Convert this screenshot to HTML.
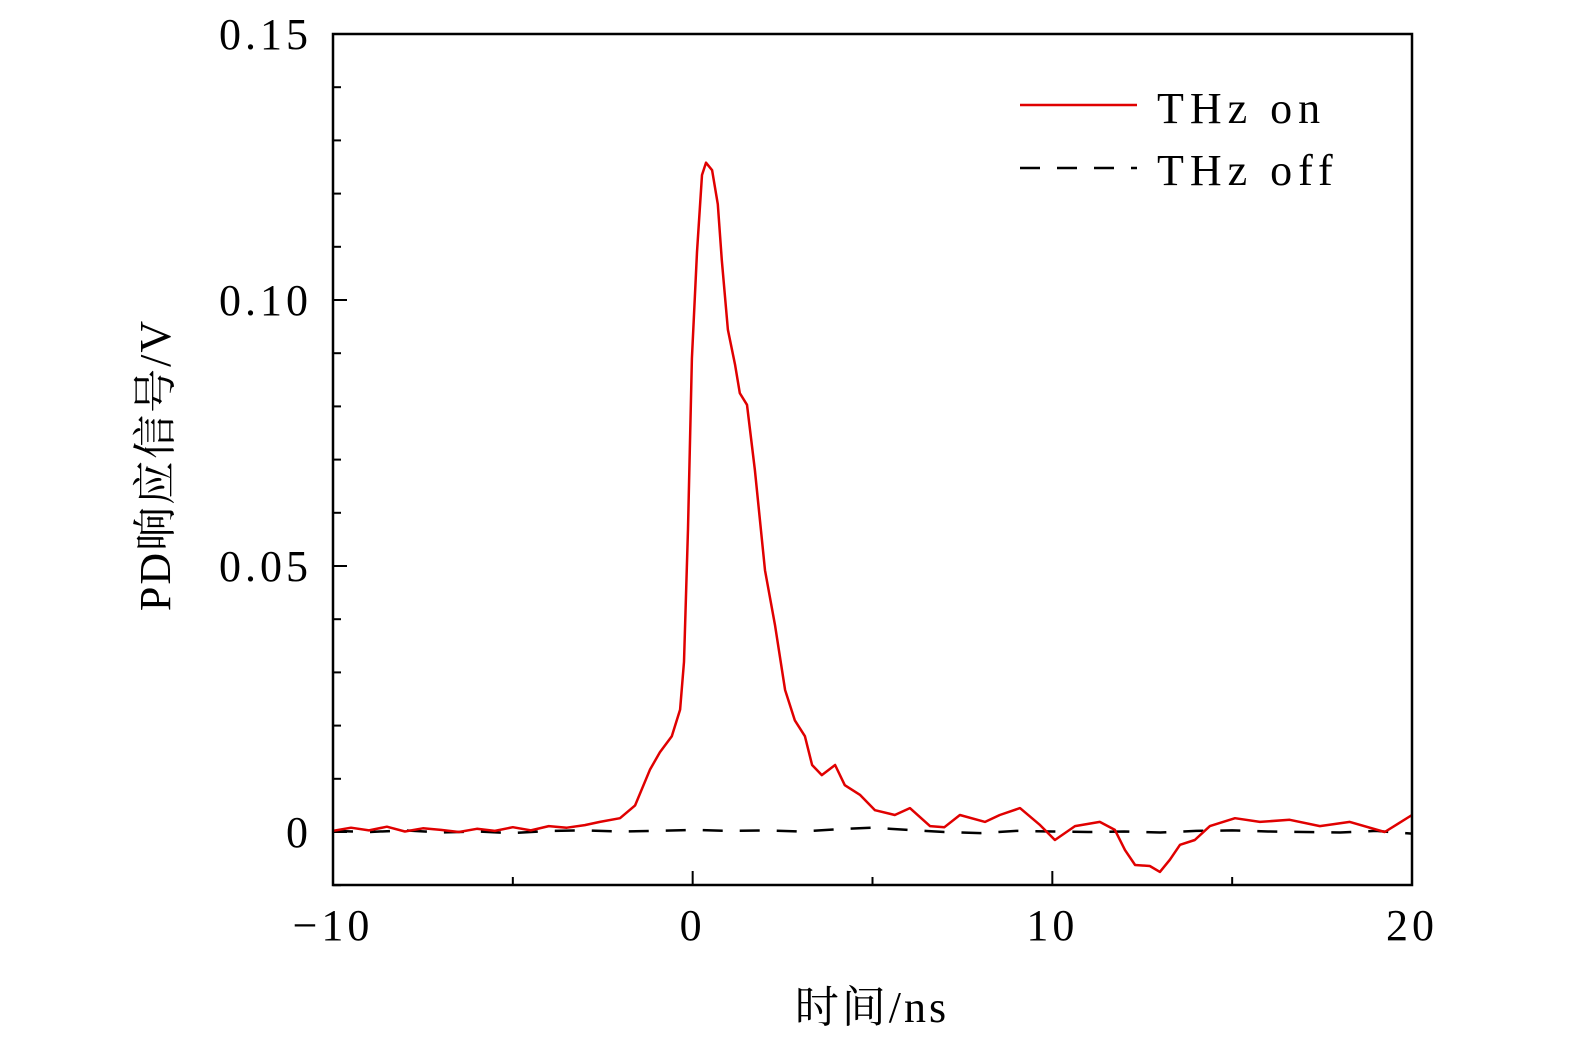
<!DOCTYPE html>
<html><head><meta charset="utf-8"><style>
html,body{margin:0;padding:0;background:#fff;width:1575px;height:1050px;overflow:hidden}
svg text{font-family:"Liberation Serif","Noto Serif CJK SC",serif;fill:#000}
</style></head><body>
<svg id="chart" width="1575" height="1050" viewBox="0 0 1575 1050" xmlns="http://www.w3.org/2000/svg">
<g id="axes"></g>
<g id="series"></g>
<rect x="333" y="34" width="1079" height="851" fill="none" stroke="#000" stroke-width="2.5"/>
<text x="872" y="1022" font-size="44" letter-spacing="3" text-anchor="middle">时间/ns</text>
<text transform="translate(170,465) rotate(-90)" font-size="44" letter-spacing="2" text-anchor="middle">PD响应信号/V</text>
<g>
<line x1="1020" y1="105" x2="1137" y2="105" stroke="#e00000" stroke-width="2.5"/>
<text x="1157" y="123" font-size="44" letter-spacing="6">THz on</text>
<line x1="1020" y1="168" x2="1137" y2="168" stroke="#000" stroke-width="2.5" stroke-dasharray="20,17"/>
<text x="1157" y="185" font-size="44" letter-spacing="6">THz off</text>
</g>
</svg>
<script>
const onTimes=[-10,-9.5,-9,-8.5,-8,-7.5,-7,-6.5,-6,-5.5,-5,-4.5,-4,-3.5,-3,-2.58,-2.02,-1.6,-1.19,-0.91,-0.58,-0.35,-0.24,-0.13,-0.02,0.12,0.26,0.37,0.54,0.70,0.81,0.98,1.18,1.31,1.51,1.73,2.01,2.29,2.57,2.84,3.12,3.32,3.59,3.96,4.23,4.65,5.07,5.62,6.04,6.6,7.0,7.43,8.13,8.54,9.1,9.66,10.07,10.63,11.32,11.74,12.02,12.3,12.71,12.99,13.27,13.55,13.96,14.38,15.08,15.77,16.6,17.44,18.27,19.24,20];
const onValues=[0.0002,0.0008,0.0003,0.0010,0.0001,0.0007,0.0004,0.0000,0.0006,0.0002,0.0009,0.0003,0.0011,0.0008,0.0013,0.0019,0.0026,0.005,0.0117,0.015,0.018,0.023,0.032,0.057,0.089,0.109,0.1235,0.1258,0.1244,0.118,0.1075,0.0944,0.0878,0.0825,0.0803,0.068,0.0492,0.0389,0.0267,0.021,0.018,0.0126,0.0107,0.0126,0.0088,0.007,0.0041,0.0032,0.0045,0.0011,0.0009,0.0032,0.0019,0.0032,0.0045,0.0013,-0.0015,0.0011,0.0019,0.0004,-0.0034,-0.0062,-0.0064,-0.0075,-0.0052,-0.0024,-0.0015,0.0011,0.0026,0.0019,0.0023,0.0011,0.0019,0.0000,0.0032];
const offTimes=[-10,-9,-8,-7,-6,-5,-4,-3,-2,-1,0,1,2,3,4,5,6,7,8,9,10,11,12,13,14,15,16,17,18,19,20];
const offValues=[0.0002,0.0000,0.0003,-0.0001,0.0001,-0.0002,0.0002,0.0003,0.0001,0.0002,0.0004,0.0002,0.0003,0.0001,0.0005,0.0008,0.0004,0.0000,-0.0002,0.0002,0.0001,0.0000,0.0001,-0.0001,0.0002,0.0003,0.0001,0.0000,-0.0001,0.0002,-0.0003];
const xTickVals=[-10,0,10,20];
const xTickLabels=["\u221210","0","10","20"];
const yTickVals=[0,0.05,0.10,0.15];
const yTickLabels=["0","0.05","0.10","0.15"];
const X0=333,X1=1412,Y0=832,YTOP=34;
const xs=t=>X0+(t+10)/30*(X1-X0);
const ys=v=>Y0-v/0.15*(Y0-YTOP);
const NS="http://www.w3.org/2000/svg";
const axes=document.getElementById('axes'),ser=document.getElementById('series');
function mk(tag,attrs,parent){const e=document.createElementNS(NS,tag);for(const k in attrs)e.setAttribute(k,attrs[k]);parent.appendChild(e);return e;}
for(let v=-0.01;v<=0.1501;v+=0.01){
  const major=Math.abs(Math.round(v*100)%5)===0;
  const l=mk('line',{x1:X0,x2:X0+(major?14:8),y1:ys(v),y2:ys(v),stroke:'#000','stroke-width':2},axes);
  
  
}
for(let t=-5;t<20;t+=10){
  const l=mk('line',{x1:xs(t),x2:xs(t),y1:885,y2:877,stroke:'#000','stroke-width':2},axes);
  
  
}
for(let i=0;i<xTickVals.length;i++){
  const l=mk('line',{x1:xs(xTickVals[i]),x2:xs(xTickVals[i]),y1:885,y2:871,stroke:'#000','stroke-width':2},axes);
  
  
  const tx=mk('text',{x:xs(xTickVals[i]),y:940,'font-size':44,'letter-spacing':4,'text-anchor':'middle'},axes);
  tx.textContent=xTickLabels[i];
  
  
}
for(let i=0;i<yTickVals.length;i++){
  const tx=mk('text',{x:312,y:ys(yTickVals[i])+15,'font-size':44,'letter-spacing':4,'text-anchor':'end'},axes);
  tx.textContent=yTickLabels[i];
  
  
}
const offPath=mk('path',{d:offTimes.map((t,i)=>(i?'L':'M')+xs(t).toFixed(1)+','+ys(offValues[i]).toFixed(1)).join(''),fill:'none',stroke:'#000','stroke-width':2.5,'stroke-dasharray':'20,17'},ser);


const onPath=mk('path',{d:onTimes.map((t,i)=>(i?'L':'M')+xs(t).toFixed(1)+','+ys(onValues[i]).toFixed(1)).join(''),fill:'none',stroke:'#e00000','stroke-width':2.5,'stroke-linejoin':'round'},ser);


</script>
</body></html>
